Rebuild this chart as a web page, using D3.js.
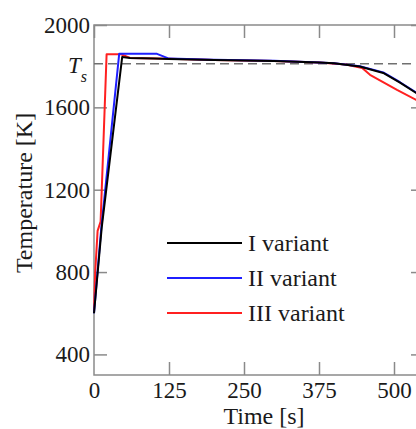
<!DOCTYPE html>
<meta charset="utf-8">
<style>
  body { margin: 0; background: #fff; }
  text { font-family: "Liberation Serif", "DejaVu Serif", serif; fill: #1a1a1a; }
  .frame { fill: none; stroke: #8a8a8a; stroke-width: 1.5; }
  .tick line { stroke: #8a8a8a; stroke-width: 1.5; }
  .curve { fill: none; stroke-width: 2; stroke-linejoin: round; }
</style>
<body>
<script src="https://cdn.jsdelivr.net/npm/d3@7"></script>
<script>

var width = 416,
    height = 429;

// values
var seriesNames = ["I variant", "II variant", "III variant"];
var seriesColors = ["#000000", "#1f1fff", "#ff2020"];

var timeI = [0, 13, 47, 60, 100, 125, 200, 300, 375, 400, 443, 482, 510, 537, 550];
var tempI = [600, 1020, 1845, 1840, 1837, 1835, 1830, 1825, 1818, 1814, 1798, 1767, 1720, 1670, 1648];

var timeII = [0, 12, 42, 105, 125, 200, 300, 375, 400, 443, 482, 510, 537, 550];
var tempII = [600, 1010, 1860, 1860, 1837, 1831, 1826, 1818, 1814, 1800, 1770, 1722, 1672, 1650];

var timeIII = [0, 2, 6, 11, 21, 45, 60, 125, 200, 300, 375, 420, 447, 460, 505, 537, 550];
var tempIII = [610, 800, 1000, 1045, 1858, 1858, 1840, 1836, 1830, 1825, 1818, 1808, 1791, 1758, 1685, 1636, 1620];

var xTicks = [0, 125, 250, 375, 500];
var yTicks = [400, 800, 1200, 1600, 2000];
var tsValue = 1812;

var svg = d3.select("body").append("svg")
    .attr("width", width)
    .attr("height", height);

var x = d3.scaleLinear().domain([0, 550]).range([94, 424]);
var y = d3.scaleLinear().domain([300, 2000]).range([375, 25]);

// frame
svg.append("rect")
    .attr("class", "frame")
    .attr("x", x(0)).attr("y", y(2000))
    .attr("width", x(550) - x(0)).attr("height", y(300) - y(2000));

// inward ticks on all four sides
var yAxis = svg.append("g").attr("transform", "translate(" + x(0) + ",0)")
    .call(d3.axisLeft(y).tickValues(yTicks).tickSize(-13).tickPadding(4).tickFormat(d3.format("d")));
svg.append("g").attr("transform", "translate(" + x(550) + ",0)")
    .call(d3.axisRight(y).tickValues(yTicks).tickSize(-13).tickFormat(""));
var xAxis = svg.append("g").attr("transform", "translate(0," + y(300) + ")")
    .call(d3.axisBottom(x).tickValues(xTicks).tickSize(-13).tickPadding(7));
svg.append("g").attr("transform", "translate(0," + y(2000) + ")")
    .call(d3.axisTop(x).tickValues(xTicks).tickSize(-13).tickFormat(""));

svg.selectAll(".domain").remove();
svg.selectAll(".tick text")
    .style("font-family", "'Liberation Serif', serif")
    .style("font-size", "23px")
    .attr("fill", "#1a1a1a");
xAxis.selectAll(".tick").filter(function(d) { return d === 0; }).select("line").remove();

// T_s dashed line
svg.append("line")
    .attr("x1", x(0)).attr("x2", x(550))
    .attr("y1", y(tsValue)).attr("y2", y(tsValue))
    .attr("stroke", "#707070").attr("stroke-width", 1.6)
    .attr("stroke-dasharray", "9,5");

var ts = svg.append("text")
    .attr("x", 68).attr("y", y(tsValue) + 9)
    .style("font-size", "23px").style("font-style", "italic");
ts.append("tspan").text("T");
ts.append("tspan").attr("dy", 9).style("font-size", "16px").text("s");

// curves
var line = d3.line()
    .x(function(d) { return x(d[0]); })
    .y(function(d) { return y(d[1]); });

var series = [
  { t: timeIII, v: tempIII, c: seriesColors[2] },
  { t: timeII, v: tempII, c: seriesColors[1] },
  { t: timeI, v: tempI, c: seriesColors[0] }
];

svg.selectAll(".curve")
    .data(series)
  .enter().append("path")
    .attr("class", "curve")
    .attr("stroke", function(d) { return d.c; })
    .attr("d", function(d) { return line(d3.zip(d.t, d.v)); });

// legend
var legend = svg.selectAll(".legend")
    .data(seriesNames)
  .enter().append("g")
    .attr("transform", function(d, i) { return "translate(167," + (243 + i * 35) + ")"; });

legend.append("line")
    .attr("x1", 0).attr("x2", 75)
    .attr("stroke", function(d, i) { return seriesColors[i]; })
    .attr("stroke-width", 2);

legend.append("text")
    .attr("x", 81).attr("dy", "0.33em")
    .style("font-size", "24px")
    .text(function(d) { return d; });

// axis titles
svg.append("text")
    .attr("x", 264).attr("y", 424)
    .attr("text-anchor", "middle")
    .style("font-size", "24px")
    .text("Time [s]");

svg.append("text")
    .attr("transform", "translate(32,193) rotate(-90)")
    .attr("text-anchor", "middle")
    .style("font-size", "24px")
    .text("Temperature [K]");

</script>
